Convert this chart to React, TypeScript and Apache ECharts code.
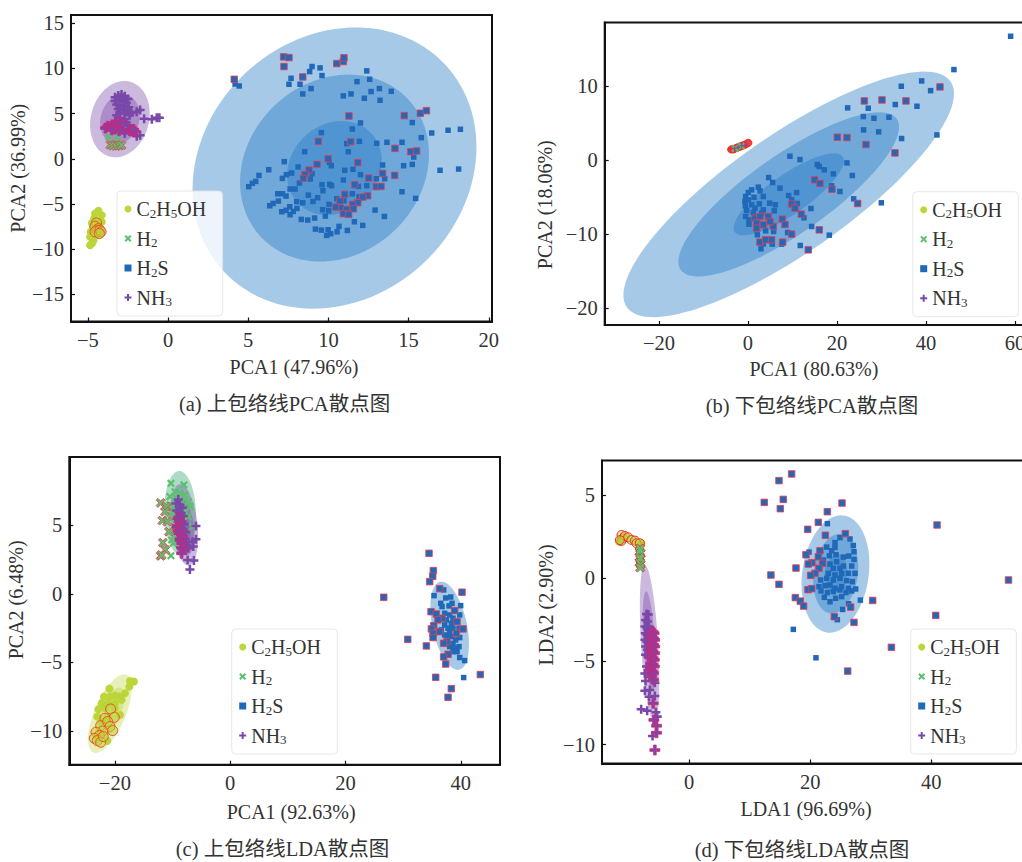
import React, { useEffect, useRef } from "react";
import * as echarts from "echarts";

const SERIF = '"Liberation Serif", "Noto Sans CJK SC", serif';
const names = ["C2H5OH", "H2", "H2S", "NH3"];
const subtitles = ["(a) 上包络线PCA散点图", "(b) 下包络线PCA散点图", "(c) 上包络线LDA散点图", "(d) 下包络线LDA散点图"];
const xNames = ["PCA1 (47.96%)", "PCA1 (80.63%)", "PCA1 (92.63%)", "LDA1 (96.69%)"];
const yNames = ["PCA2 (36.99%)", "PCA2 (18.06%)", "PCA2 (6.48%)", "LDA2 (2.90%)"];
const xTicks = [[-5, 0, 5, 10, 15, 20], [-20, 0, 20, 40, 60], [-20, 0, 20, 40], [0, 20, 40]];
const yTicks = [[-15, -10, -5, 0, 5, 10, 15], [-20, -10, 0, 10], [-10, -5, 0, 5], [-10, -5, 0, 5]];
const xRanges = [[-6.05, 20.2], [-32.2, 61.8], [-27.9, 46.8], [-14.4, 55.3]];
const yRanges = [[-18.0, 15.9], [-22.3, 18.55], [-12.46, 10], [-11.14, 7.09]];

// ---- panel (a)
const aH2SOut = [[4.13,8.79],[7.21,11.27],[7.54,11.19],[7.23,10.2],[8.4,9.05],[10.52,10.53],[10.93,10.75],[10.97,11.16],[11.28,4.73],[14.73,4.77],[15.73,5.03],[16.11,5.32],[9.37,1.93],[11.39,1.89],[14.15,1.15],[15.13,0.78],[15.5,0.86],[9.98,0.01],[11.83,-0.43],[9.29,-0.62],[8.79,-1.25],[8.54,-1.73],[8.44,-2.17],[12.51,-2.13],[13.38,-1.62],[14.13,-1.84],[11.64,-2.87],[12.99,-3.09],[13.28,-3.06],[11.02,-3.94],[12.45,-4.09],[12.14,-4.24],[10.72,-4.68],[11.83,-4.86],[11.51,-5.05],[10.45,-5.34],[11.14,-5.6],[11.56,-5.53],[10.93,-6.08],[11.26,-6.16]];
const aH2S = [[4.18,8.27],[4.44,8.05],[8.98,10.2],[8.83,9.64],[9.48,10.05],[9.6,9.2],[7.67,8.9],[7.54,8.24],[8.23,8.24],[8.92,7.76],[8.4,7.17],[12.39,9.72],[12.57,8.79],[11.78,8.53],[13.18,7.76],[12.66,7.43],[13.92,7.46],[11.41,7.17],[10.93,6.95],[12.24,6.69],[13.22,6.47],[15.23,4.0],[12.0,3.96],[11.49,3.29],[9.56,2.89],[16.44,2.85],[17.46,3.15],[18.23,3.26],[15.79,2.33],[11.93,1.93],[11.14,1.67],[13.01,1.71],[13.65,1.82],[14.59,1.82],[11.24,0.78],[8.52,0.78],[15.32,0.19],[7.25,-0.32],[10.06,-0.4],[10.18,-0.77],[8.11,-0.91],[13.38,-0.69],[14.69,-0.77],[15.23,-0.62],[16.96,-1.28],[18.12,-1.14],[6.28,-1.21],[11.02,-1.28],[11.53,-1.17],[7.71,-1.58],[7.38,-1.76],[8.98,-1.65],[7.13,-2.17],[5.67,-1.84],[8.87,-2.24],[12.0,-1.76],[12.99,-2.21],[13.51,-2.21],[10.93,-2.35],[8.19,-2.69],[5.47,-2.5],[5.26,-2.72],[5.03,-3.09],[9.6,-2.87],[10.08,-2.83],[10.2,-2.98],[11.87,-3.06],[12.39,-2.98],[7.92,-3.35],[7.61,-3.35],[9.66,-3.54],[14.59,-3.65],[6.84,-3.87],[7.13,-3.87],[7.36,-4.13],[8.75,-4.02],[9.33,-4.31],[11.49,-3.87],[11.91,-4.2],[10.52,-4.42],[15.44,-4.38],[6.88,-4.68],[6.55,-4.94],[6.34,-5.2],[8.02,-4.75],[8.4,-4.86],[9.04,-4.72],[10.97,-4.64],[10.04,-5.05],[7.59,-5.31],[8.04,-5.49],[7.09,-5.86],[7.36,-5.71],[7.81,-5.82],[7.61,-6.19],[9.64,-5.64],[10.02,-5.75],[10.79,-5.42],[12.91,-5.68],[13.49,-6.38],[9.81,-6.34],[8.31,-6.71],[8.71,-6.78],[9.14,-6.56],[11.62,-6.97],[12.14,-7.37],[9.19,-7.78],[9.56,-7.89],[9.98,-7.85],[10.14,-8.3],[9.89,-8.48],[10.54,-8.08],[10.66,-7.48],[11.18,-7.93]];
const aEth = [[-4.34,-5.76],[-4.55,-6.05],[-4.13,-6.24],[-4.61,-6.61],[-4.75,-7.09],[-4.34,-6.98],[-4.13,-6.98],[-4.69,-7.53],[-4.24,-8.08],[-4.82,-8.08],[-4.34,-8.45],[-4.86,-8.64],[-4.65,-9.01],[-4.75,-9.38],[-4.86,-9.56],[-4.69,-9.19]];
const aEthOut = [[-4.46,-7.09],[-4.55,-7.46],[-4.34,-7.72],[-4.44,-7.9],[-4.55,-8.08],[-4.24,-7.9],[-4.17,-8.08],[-4.28,-8.27]];
const aH2 = [[-3.7,2.44],[-3.15,2.36],[-3.3,1.62],[-2.37,5.39],[-2.6,5.6],[-3.0,3.2]];
const aH2Out = [[-3.6,1.55],[-3.45,1.45],[-3.25,1.4],[-3.05,1.45],[-2.9,1.5]];
const aNH3 = [[-3.3,6.8],[-3.1,7.0],[-2.9,7.1],[-2.7,6.9],[-2.5,6.6],[-3.3,6.4],[-3.0,6.5],[-2.8,6.3],[-2.6,6.2],[-3.2,6.0],[-3.0,5.9],[-2.7,5.8],[-2.45,5.7],[-3.1,5.5],[-2.8,5.4],[-2.5,5.3],[-2.3,5.1],[-3.0,5.1],[-2.7,5.0],[-2.4,4.8],[-3.2,4.8],[-3.0,4.5],[-2.7,4.4],[-3.3,4.2],[-2.9,4.1],[-2.6,4.0],[-2.9,3.6],[-2.5,3.7],[-2.8,3.2],[-2.5,3.3],[-2.7,2.8],[-1.74,5.39],[-1.95,5.2],[-1.49,4.43],[-1.01,4.36],[-0.7,4.54],[-0.54,4.54],[-1.95,2.5],[-1.74,2.6]];
const aNH3Out = [[-3.9,3.4],[-3.75,3.6],[-3.55,3.55],[-3.4,3.7],[-3.3,3.3],[-3.15,3.6],[-3.05,3.1],[-3.5,3.2],[-3.25,4.0],[-2.95,4.0],[-2.4,3.1],[-2.26,3.06],[-2.05,3.0],[-2.15,3.25]];
const aEllH2S = [[10.38,-1.03,8.85,15.55,0.15],[10.38,-1.03,5.89,10.34,0.15],[10.38,-1.03,2.95,5.2,0.15]];
const aEllNH3 = [[-3.0,4.38,1.86,4.22,0.15],[-3.0,4.38,1.23,2.75,0.15]];

// ---- panel (b)
const bH2SOut = [[26.14,7.96],[30.11,8.09],[35.5,7.96],[43.14,9.85],[20.07,3.06],[22.24,3.01],[26.51,2.07],[33.03,0.94],[14.98,-2.7],[16.17,-3.19],[18.87,-3.96],[24.64,-5.89],[9.81,-5.98],[10.56,-6.52],[11.98,-7.33],[7.71,-8.01],[8.31,-8.73],[5.69,-9.0],[9.81,-10.03],[16.02,-9.45],[7.79,-11.11],[13.55,-12.15],[2.69,-11.11],[3.97,-10.8],[5.31,-10.8],[1.57,-7.87],[2.69,-7.65],[4.56,-7.65],[1.94,-8.55],[3.44,-8.77],[4.94,-8.32],[1.94,-9.22]];
const bH2S = [[59.02,16.69],[46.28,12.19],[39.02,10.66],[34.45,9.94],[41.04,9.35],[33.1,7.47],[37.97,7.24],[22.39,7.02],[27.03,6.97],[25.91,5.85],[28.31,5.62],[31.68,5.76],[25.98,4.05],[29.36,3.78],[34.52,2.88],[42.46,3.37],[9.43,0.49],[11.68,0.04],[22.24,-0.41],[15.57,-0.63],[16.02,-0.9],[17.15,-1.35],[19.17,-1.89],[23.44,-2.11],[4.64,-2.39],[5.54,-3.06],[7.19,-3.82],[2.32,-3.69],[18.8,-3.51],[20.67,-4.27],[10.93,-4.41],[9.13,-4.81],[9.81,-5.4],[11.08,-5.89],[23.74,-5.26],[29.96,-5.8],[14.15,-6.57],[12.58,-7.83],[14.3,-9.0],[18.27,-10.17],[11.75,-11.56],[8.91,-9.81],[2.92,-12.01],[2.09,-10.12],[5.46,-11.38],[5.76,-9.67],[3.97,-9.58],[3.44,-11.34],[7.56,-11.38],[0.82,-4.05],[0.07,-4.41],[2.69,-4.18],[-0.53,-4.95],[1.34,-5.04],[3.44,-4.95],[-0.68,-5.62],[0.07,-5.4],[2.54,-5.94],[4.86,-5.85],[6.14,-6.07],[-0.6,-6.21],[0.82,-6.07],[-0.3,-6.84],[1.57,-6.52],[3.44,-6.75],[5.91,-6.88],[-0.53,-7.65],[0.22,-8.1],[1.19,-7.11],[3.07,-7.2],[0.22,-8.68]];
const bEthOut = [[-3.8,1.4],[-3.5,1.45],[-3.3,1.4],[-3.1,1.5],[-2.8,1.55],[-2.5,1.6],[-2.3,1.7],[-2.0,1.75],[-1.7,1.8],[-1.4,1.9],[-1.1,1.95],[-0.8,2.0],[-0.5,2.1],[-0.2,2.2],[0.1,2.3]];
const bEth = [[-2.6,1.6],[-1.9,1.8]];
const bH2 = [[-2.9,1.55],[-1.5,1.85]];
const bNH3 = [[-3.0,1.5],[-2.2,1.7],[-1.4,1.9],[-0.5,2.15]];
const bEllH2S = [[9.15,-4.66,37.15,16.58,0.82],[9.15,-4.66,24.8,11.08,0.82],[9.15,-4.66,12.38,5.53,0.82]];

// ---- panel (c)
const cEth = [[-20.96,-6.91],[-17.38,-6.35],[-16.69,-6.39],[-17.49,-6.76],[-18.24,-7.25],[-21.88,-7.49],[-20.84,-7.49],[-19.98,-7.42],[-19.23,-7.49],[-22.29,-7.98],[-21.13,-7.98],[-19.98,-7.98],[-18.82,-7.73],[-22.87,-8.41],[-21.71,-8.34],[-19.98,-8.34],[-23.04,-8.95],[-21.13,-8.95],[-22.29,-9.31],[-19.11,-8.83],[-21.31,-10.72]];
const cEthOut = [[-20.73,-8.39],[-21.71,-9.07],[-20.09,-9.0],[-22.46,-9.61],[-21.25,-9.31],[-20.84,-9.68],[-20.38,-9.97],[-22.12,-10.0],[-23.27,-10.09],[-22.69,-10.34],[-23.56,-10.53],[-23.04,-10.7],[-22.46,-10.82],[-22.0,-10.41]];
const cH2 = [[-10.27,8.08],[-8.02,7.96],[-9.58,7.47],[-8.71,7.35],[-7.85,7.23],[-10.45,7.11],[-9.29,6.99],[-8.42,6.74],[-7.27,6.74],[-6.87,6.38],[-10.45,6.5],[-9.87,6.26],[-9.0,6.14],[-7.85,6.01],[-10.16,5.77],[-7.27,5.65],[-6.52,4.92],[-10.16,3.95],[-10.27,2.8],[-9.58,5.28],[-9.58,4.31],[-9.87,3.7]];
const cH2Out = [[-12.06,6.65],[-11.02,6.38],[-11.31,6.01],[-11.77,5.36],[-10.91,5.28],[-10.62,4.55],[-11.66,3.75],[-11.25,3.22],[-12.06,2.78],[-11.89,2.85]];
const cH2S = [[37.03,0.3],[35.36,-0.12],[37.38,-0.29],[38.25,-0.22],[39.98,-0.85],[36.52,-0.68],[36.75,-0.92],[37.96,-0.87],[38.48,-0.68],[39.81,-1.53],[37.21,-1.41],[38.07,-1.53],[38.65,-1.77],[37.5,-1.89],[38.36,-2.14],[37.21,-2.26],[37.79,-2.5],[38.65,-2.5],[39.69,-2.5],[36.63,-2.62],[38.07,-2.87],[37.21,-2.99],[38.36,-3.11],[37.61,-3.23],[39.11,-3.35],[39.81,-3.18],[38.65,-3.6],[39.69,-3.84],[38.94,-3.96],[38.07,-3.84],[38.65,-4.21],[39.35,-4.21],[39.81,-4.64],[40.67,-4.86],[40.5,-6.1]];
const cH2SOut = [[34.49,2.97],[35.24,1.71],[35.13,1.29],[34.61,0.9],[36.34,0.39],[40.21,0.13],[26.64,-0.24],[34.84,-1.29],[35.76,-1.46],[38.94,-1.21],[36.75,-1.77],[36.05,-1.89],[39.35,-2.02],[35.3,-2.31],[34.9,-2.55],[35.19,-2.87],[36.34,-2.75],[40.39,-2.55],[39.23,-2.87],[35.19,-3.18],[30.8,-3.31],[34.03,-3.79],[37.61,-3.48],[37.03,-3.6],[37.79,-4.4],[37.03,-4.59],[37.38,-5.11],[35.65,-6.08],[38.36,-6.91],[37.79,-7.54],[43.39,-5.88]];
const cNH3 = [[-9.4,6.6],[-9.0,6.9],[-8.7,6.5],[-8.3,6.3],[-9.3,6.1],[-8.9,6.0],[-8.5,5.9],[-8.1,5.7],[-9.2,5.5],[-8.8,5.4],[-8.4,5.3],[-8.0,5.1],[-9.3,5.0],[-8.9,4.9],[-8.5,4.8],[-8.1,4.6],[-7.7,4.5],[-9.0,4.4],[-8.6,4.3],[-8.2,4.2],[-7.8,4.0],[-8.8,3.9],[-8.4,3.8],[-8.0,3.7],[-7.6,3.6],[-8.6,3.4],[-8.2,3.3],[-7.8,3.2],[-5.94,4.97],[-5.94,4.0],[-6.52,3.82],[-6.4,3.46],[-7.27,3.34],[-7.38,2.49],[-6.29,2.44],[-6.98,1.78]];
const cNH3Out = [[-9.2,4.9],[-9.0,4.6],[-8.8,5.3],[-8.6,4.7],[-8.3,4.2],[-8.7,4.0],[-8.4,3.7],[-8.2,3.3],[-8.42,2.97],[-8.9,5.6]];
const cEllEth = [[-20.86,-8.73,3.79,2.87,0.65],[-20.86,-8.73,2.53,1.91,0.65]];
const cEllH2 = [[-8.69,5.91,2.75,3.07,-0.05]];
const cEllNH3 = [[-7.95,5.05,2.4,2.97,-0.3],[-7.95,4.9,1.75,2.05,-0.3],[-8.0,4.6,1.1,1.5,-0.3]];
const cEllH2S = [[38.07,-2.32,3.35,3.22,-0.42]];

// ---- panel (d)
const dH2SOut = [[16.92,6.28],[14.83,5.88],[15.54,4.75],[12.4,4.57],[15.05,4.19],[25.24,4.53],[22.82,4.01],[21.33,3.37],[19.57,2.95],[22.49,2.59],[25.79,2.69],[40.94,3.21],[19.29,1.42],[52.74,-0.1],[17.64,0.62],[13.5,0.2],[14.83,-0.36],[20.28,0.94],[19.68,0.86],[22.04,0.9],[21.44,0.6],[20.78,0.3],[20.06,0.18],[19.62,-0.68],[20.23,-0.62],[17.53,-1.16],[18.35,-1.37],[18.9,-1.67],[30.31,-1.33],[26.67,-1.73],[23.97,-2.31],[27.22,-2.65],[40.72,-2.23],[33.4,-4.15],[26.18,-5.58],[21.6,1.66],[21.33,1.3]];
const dH2S = [[22.82,3.29],[19.79,1.58],[17.2,-3.07],[20.94,-4.78],[28.27,-1.31],[24.47,-2.49],[25.35,-1.87],[26.34,-1.53],[26.56,2.37],[24.91,2.45],[24.08,2.15],[27.11,1.98],[22.71,1.88],[24.08,1.86],[27.22,1.6],[23.53,1.66],[23.15,1.36],[24.25,1.42],[25.46,1.28],[26.34,1.34],[27.22,1.14],[22.16,1.1],[24.36,1.0],[23.26,0.86],[25.46,0.74],[26.84,0.74],[23.81,0.6],[24.91,0.6],[26.29,0.3],[22.98,0.3],[24.08,0.2],[25.19,0.3],[27.39,0.3],[21.71,-0.1],[22.71,0],[23.81,-0.1],[24.91,0],[26.01,-0.14],[26.95,-0.2],[21.44,-0.5],[22.43,-0.44],[23.26,-0.4],[24.08,-0.6],[25.19,-0.5],[26.29,-0.6],[27.5,-0.64],[21.77,-0.76],[22.82,-0.86],[23.81,-0.8],[24.91,-0.7],[25.9,-0.86],[26.84,-0.76],[22.32,-1.14],[23.26,-1.41],[24.19,-1.2],[25.19,-1.1]];
const dEth = [[-7.87,2.11],[-11.56,2.2],[-8.04,1.95]];
const dEthOut = [[-11.18,2.61],[-10.9,2.41],[-11.18,2.25],[-10.63,2.55],[-10.08,2.47],[-9.53,2.31],[-8.97,2.27],[-8.7,2.11],[-8.15,2.11],[-11.45,2.3]];
const dH2 = [[-8.08,1.7],[-8.08,1.2],[-8.08,0.65]];
const dH2Out = [[-8.1,1.8],[-8.2,1.6],[-8.0,1.5],[-8.15,1.3],[-8.05,1.15],[-8.2,0.95],[-8.0,0.85],[-8.1,0.65]];
const dNH3 = [[-7.05,-2.15],[-6.75,-2.18],[-7.2,-2.5],[-6.9,-2.6],[-7.3,-2.9],[-6.95,-3.0],[-6.7,-2.9],[-7.25,-3.3],[-6.95,-3.4],[-6.65,-3.4],[-7.3,-3.7],[-7.0,-3.8],[-6.7,-3.9],[-7.2,-4.1],[-6.9,-4.3],[-7.2,-4.6],[-6.8,-4.7],[-7.05,-5.31],[-6.77,-5.72],[-7.32,-5.72],[-7.93,-7.88],[-6.94,-7.96],[-7.32,-6.76],[-7.21,-6.18],[-5.67,-6.28],[-6.5,-6.72],[-6.61,-7.12],[-5.67,-7.08],[-5.5,-8.06],[-5.28,-8.32],[-6.05,-9.49]];
const dNH3Out = [[-6.0,-3.2],[-5.8,-3.3],[-6.2,-3.5],[-5.9,-3.6],[-5.7,-3.7],[-6.2,-3.9],[-5.9,-4.0],[-5.7,-4.1],[-6.3,-4.3],[-6.0,-4.4],[-5.7,-4.5],[-6.3,-4.7],[-6.0,-4.8],[-5.75,-4.9],[-6.3,-5.1],[-6.0,-5.2],[-5.75,-5.3],[-6.4,-5.5],[-6.1,-5.6],[-5.9,-5.7],[-6.2,-5.9],[-5.9,-6.1],[-5.94,-7.52],[-5.83,-8.52],[-5.39,-8.87],[-5.39,-9.29],[-5.67,-10.33]];
const dEllH2S = [[24.16,0.26,5.6,3.53,0.17],[24.2,0.28,3.72,2.39,0.17],[24.2,0.28,1.86,1.18,0.17]];
const dEllNH3 = [[-6.55,-3.91,1.6,4.71,-0.48],[-6.6,-3.76,1.07,2.98,-0.48],[-6.6,-3.7,0.55,1.55,-0.48]];

const COLORS: any = { C2H5OH: "#bcd63a", H2: "#5cc070", H2S: "#2069b8", NH3: "#7a48a8" };
const SYMBOLS: any = {
  C2H5OH: "circle",
  H2: "path://M0 2 L2 0 L5 3 L8 0 L10 2 L7 5 L10 8 L8 10 L5 7 L2 10 L0 8 L3 5Z",
  H2S: "rect",
  NH3: "path://M3.6 0H6.4V3.6H10V6.4H6.4V10H3.6V6.4H0V3.6H3.6Z",
};
const SIZES: any = { C2H5OH: 8, H2: 8, H2S: 5.5, NH3: 9 };
const grids = [
  { left: 71, top: 15, width: 421, height: 306.5 },
  { left: 604.7, top: 22.5, width: 418.3, height: 302.5 },
  { left: 69.3, top: 457, width: 430.7, height: 307.7 },
  { left: 602, top: 460.5, width: 422, height: 303 },
];
const xShift = [12.5, 0, 6.5, -7];
const yShift = [0, 31, -11, -7];
const xGap = [35, 34, 37, 35];
const yGap = [35, 50, 30, 46];
const legendPos = [[117, 191], [912.7, 191.7], [231.7, 629], [910.7, 629]];
const titlePos = [[284.5, 394], [812, 396], [282.5, 839], [802, 840]];

function ellipse(name: string, g: number, data: number[][], fill: string) {
  return {
    type: "custom", name, xAxisIndex: g, yAxisIndex: g, silent: true, z: 1, clip: true,
    encode: { x: 0, y: 1 }, data,
    renderItem: (_p: any, api: any) => {
      const [cx, cy, sx, sy, r] = [0, 1, 2, 3, 4].map((i) => api.value(i));
      const pts: number[][] = [];
      for (let k = 0; k < 120; k++) {
        const t = (k / 120) * Math.PI * 2;
        pts.push(api.coord([cx + sx * Math.cos(t), cy + sy * (r * Math.cos(t) + Math.sqrt(1 - r * r) * Math.sin(t))]));
      }
      return { type: "polygon", shape: { points: pts }, style: { fill } };
    },
  };
}
function dots(name: string, g: number, data: number[][], z = 3) {
  return { type: "scatter", name, xAxisIndex: g, yAxisIndex: g, data, z, symbol: SYMBOLS[name], symbolSize: SIZES[name], itemStyle: { color: COLORS[name], opacity: 1 }, silent: true };
}
function rings(name: string, g: number, data: number[][], border: string, size = SIZES[name] + 1, fill = COLORS[name], z = 4) {
  return { type: "scatter", name: name + " outliers", xAxisIndex: g, yAxisIndex: g, data, z, symbol: SYMBOLS[name], symbolSize: size, itemStyle: { color: fill, opacity: 1, borderColor: border, borderWidth: 1 }, silent: true };
}
const RED = "rgba(232,62,82,0.85)";
const BLUE_E = "rgba(33,119,197,0.4)";
const PURPLE_E = "rgba(122,72,168,0.38)";
const ETH_RING = "rgba(188,214,58,0.55)";
const MAGENTA = "rgba(234,26,106,0.7)";

const seriesList: any[] = [
  ...aEllH2S.map((e, i) => ellipse("H2S ellipse a" + i, 0, [e], BLUE_E)),
  ...aEllNH3.map((e, i) => ellipse("NH3 ellipse a" + i, 0, [e], PURPLE_E)),
  dots("C2H5OH", 0, aEth), rings("C2H5OH", 0, aEthOut, "#f0502a", 10, ETH_RING),
  dots("H2", 0, aH2), rings("H2", 0, aH2Out, RED),
  dots("H2S", 0, aH2S), rings("H2S", 0, aH2SOut, RED),
  dots("NH3", 0, aNH3), rings("NH3", 0, aNH3Out, MAGENTA),

  ...bEllH2S.map((e, i) => ellipse("H2S ellipse b" + i, 1, [e], BLUE_E)),
  dots("C2H5OH", 1, bEth), rings("C2H5OH", 1, bEthOut, "#f02a30", 7, "#f2403a"),
  dots("H2", 1, bH2, 5),
  dots("H2S", 1, bH2S), rings("H2S", 1, bH2SOut, RED),
  { ...dots("NH3", 1, bNH3, 5), symbolSize: 4 },

  ...cEllEth.map((e, i) => ellipse("Eth ellipse c" + i, 2, [e], "rgba(188,214,58,0.36)")),
  ...cEllH2.map((e, i) => ellipse("H2 ellipse c" + i, 2, [e], "rgba(60,170,115,0.42)")),
  ...cEllNH3.map((e, i) => ellipse("NH3 ellipse c" + i, 2, [e], PURPLE_E)),
  ...cEllH2S.map((e, i) => ellipse("H2S ellipse c" + i, 2, [e], BLUE_E)),
  dots("C2H5OH", 2, cEth), rings("C2H5OH", 2, cEthOut, "#f0502a", 10, ETH_RING),
  dots("H2", 2, cH2), rings("H2", 2, cH2Out, RED),
  dots("H2S", 2, cH2S), rings("H2S", 2, cH2SOut, RED),
  dots("NH3", 2, cNH3), rings("NH3", 2, cNH3Out, MAGENTA),

  ...dEllH2S.map((e, i) => ellipse("H2S ellipse d" + i, 3, [e], BLUE_E)),
  ...dEllNH3.map((e, i) => ellipse("NH3 ellipse d" + i, 3, [e], PURPLE_E)),
  dots("C2H5OH", 3, dEth), rings("C2H5OH", 3, dEthOut, "#f02a30", 9, ETH_RING),
  dots("H2", 3, dH2, 5), rings("H2", 3, dH2Out, "#f02a30"),
  dots("H2S", 3, dH2S), rings("H2S", 3, dH2SOut, RED),
  dots("NH3", 3, dNH3), rings("NH3", 3, dNH3Out, MAGENTA),
];

const fmtTick = (v: number) => String(v).replace("-", "\u2212");
const legendText = (n: string) => {
  if (n === "C2H5OH") return "{b|C}{s|2}{b|H}{s|5}{b|OH}";
  if (n === "H2") return "{b|H}{s|2}";
  if (n === "H2S") return "{b|H}{s|2}{b|S}";
  return "{b|NH}{s|3}";
};

function buildOption() {
  const axisCommon = {
    type: "value", scale: false, splitLine: { show: false },
    axisLine: { show: true, onZero: false, lineStyle: { color: "#111", width: 2 } },
    nameLocation: "middle",
  };
  const label = { color: "#333", fontFamily: SERIF, fontSize: 20.5, formatter: fmtTick, hideOverlap: false };
  return {
    animation: false,
    backgroundColor: "#fff",
    title: subtitles.map((text, i) => ({
      text, left: titlePos[i][0], top: titlePos[i][1], textAlign: "center", padding: 0,
      textStyle: { fontFamily: SERIF, fontWeight: "normal", fontSize: 20.5, color: "#333" },
    })),
    grid: grids.map((g) => ({ ...g, show: true, borderColor: "#111", borderWidth: 2, backgroundColor: "transparent", containLabel: false, outerBoundsMode: "none" })),
    xAxis: grids.map((_, i) => ({
      ...axisCommon, gridIndex: i, min: xRanges[i][0], max: xRanges[i][1],
      name: xNames[i], nameGap: xGap[i],
      nameTextStyle: { color: "#333", fontFamily: SERIF, fontSize: 20, padding: xShift[i] >= 0 ? [0, 0, 0, 2 * xShift[i]] : [0, -2 * xShift[i], 0, 0] },
      axisTick: { show: true, inside: true, length: 4, lineStyle: { color: "#111", width: 1.2 }, customValues: xTicks[i] },
      axisLabel: { ...label, margin: 8, customValues: xTicks[i] },
    })),
    yAxis: grids.map((_, i) => ({
      ...axisCommon, gridIndex: i, min: yRanges[i][0], max: yRanges[i][1],
      name: yNames[i], nameGap: yGap[i],
      nameTextStyle: { color: "#333", fontFamily: SERIF, fontSize: 20, padding: yShift[i] >= 0 ? [0, 2 * yShift[i], 0, 0] : [0, 0, 0, -2 * yShift[i]] },
      axisTick: { show: true, inside: true, length: 4, lineStyle: { color: "#111", width: 1.2 }, customValues: yTicks[i] },
      axisLabel: { ...label, margin: 7, customValues: yTicks[i] },
    })),
    legend: grids.map((_, i) => ({
      show: true, orient: "vertical", left: legendPos[i][0], top: legendPos[i][1],
      data: names, itemWidth: 7, itemHeight: 7, itemGap: 9, selectedMode: false, z: 10,
      padding: [8, 16.5, 8, 7.5],
      backgroundColor: "rgba(255,255,255,0.8)", borderColor: "rgba(225,225,225,0.8)", borderWidth: 1, borderRadius: 4,
      itemStyle: { borderWidth: 0 },
      formatter: legendText,
      textStyle: {
        color: "#333", fontFamily: SERIF, fontSize: 20,
        rich: {
          b: { fontFamily: SERIF, fontSize: 20, color: "#333", lineHeight: 21 },
          s: { fontFamily: SERIF, fontSize: 13, color: "#333", verticalAlign: "bottom", lineHeight: 21, padding: [7, 0, 0, 0] },
        },
      },
    })),
    series: seriesList,
  };
}

export default function App() {
  const ref = useRef<HTMLDivElement>(null);
  useEffect(() => {
    const chart = echarts.init(ref.current!, undefined, { renderer: "svg" });
    chart.setOption(buildOption() as any);
    return () => chart.dispose();
  }, []);
  return <div ref={ref} style={{ position: "absolute", left: 0, top: 0, width: 1022, height: 862, overflow: "hidden" }} />;
}
